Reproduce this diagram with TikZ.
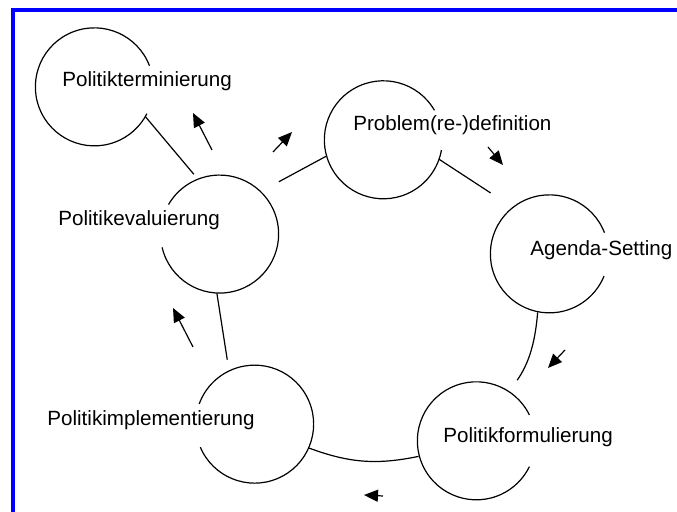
\documentclass[tikz,border=0pt]{standalone}
\usepackage{fontspec}
\setmainfont{Liberation Sans}
\usetikzlibrary{arrows.meta}

\begin{document}
\begin{tikzpicture}[x=0.5pt, y=-0.5pt, >={Triangle[length=7pt, width=6pt]},
  ring/.style={circle, minimum size=59pt, inner sep=0pt},
  rim/.style={line width=0.6pt},
  conn/.style={line width=0.6pt},
  phase/.style={anchor=base west, inner sep=0pt, font=\fontsize{10.3}{12}\selectfont}]

\useasboundingbox (0,0) rectangle (677,512);

% blue frame, top and left
\draw[blue, line width=2pt] (13,512) -- (13,10.5) -- (677,10.5);

% phases of the cycle
\node[ring] at ( 94,  87) (term) {};
\node[ring] at (220, 234) (eval) {};
\node[ring] at (383, 140) (prob) {};
\node[ring] at (549, 254) (agen) {};
\node[ring] at (476, 441) (form) {};
\node[ring] at (255, 424) (impl) {};

\draw[rim] (term.21)  arc[start angle=21,  end angle=333, radius=29.5pt];
\draw[rim] (eval.193) arc[start angle=193, end angle=510, radius=29.5pt];
\draw[rim] (prob.30)  arc[start angle=30,  end angle=350, radius=29.5pt];
\draw[rim] (agen.21)  arc[start angle=21,  end angle=338, radius=29.5pt];
\draw[rim] (form.26)  arc[start angle=26,  end angle=334, radius=29.5pt];
\draw[rim] (impl.203) arc[start angle=203, end angle=520, radius=29.5pt];

% phase names
\node[phase] at ( 62,  87) (termtxt) {Politikterminierung};
\node[phase] at ( 58, 226) (evaltxt) {Politikevaluierung};
\node[phase] at (353, 131) (probtxt) {Problem(re-)definition};
\node[phase] at (530, 256) (agentxt) {Agenda-Setting};
\node[phase] at (443, 443) (formtxt) {Politikformulierung};
\node[phase] at ( 47, 426) (impltxt) {Politikimplementierung};

% links between the circles
\draw[conn, shorten >=3pt] (term.-30) -- (eval.112);
\draw[conn, shorten >=10pt] (prob.196) -- (eval.46);
\draw[conn, shorten >=13pt] (prob.-19) -- (agen.128);
\draw[conn, shorten >=7pt] (agen.-101) to[bend left=15] (form.56);
\draw[conn] (form.195) to[bend left=16] (impl.-24);
\draw[conn, shorten >=5.5pt] (eval.-93) -- (impl.116);

% direction arrows
\coordinate (a1s) at (488, 147); \coordinate (a1e) at (503, 165);
\coordinate (a2s) at (565, 350); \coordinate (a2e) at (548, 368);
\coordinate (a3s) at (383, 496); \coordinate (a3e) at (364, 495);
\coordinate (a4s) at (193, 347); \coordinate (a4e) at (173, 308);
\coordinate (a5s) at (212, 150); \coordinate (a5e) at (193, 113);
\coordinate (a6s) at (273, 152); \coordinate (a6e) at (292, 132);
\draw[conn, ->] (a1s) -- (a1e);
\draw[conn, ->] (a2s) -- (a2e);
\draw[conn, ->] (a3s) -- (a3e);
\draw[conn, ->] (a4s) -- (a4e);
\draw[conn, ->] (a5s) -- (a5e);
\draw[conn, ->] (a6s) -- (a6e);

\end{tikzpicture}
\end{document}
